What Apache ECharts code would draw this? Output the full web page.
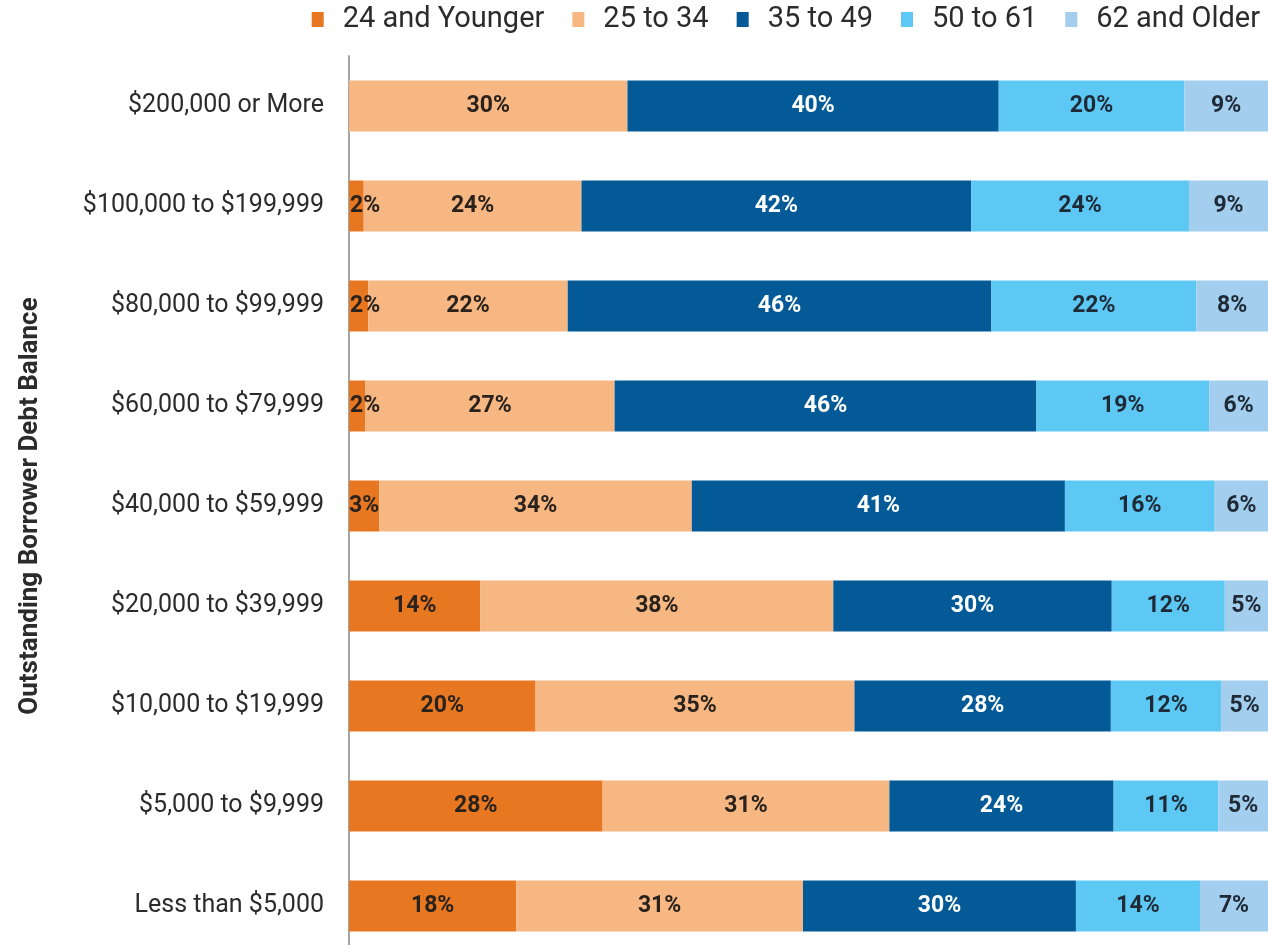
<!DOCTYPE html>
<html>
<head>
<meta charset="utf-8">
<script src="https://cdn.jsdelivr.net/npm/echarts@6/dist/echarts.min.js"></script>
<style>
  html, body { margin: 0; padding: 0; background: #fff; }
  #chart { width: 1268px; height: 945px; }
</style>
</head>
<body>
<div id="chart"></div>
<script>
// categories, top to bottom
var categories = [
    '$200,000 or More',
    '$100,000 to $199,999',
    '$80,000 to $99,999',
    '$60,000 to $79,999',
    '$40,000 to $59,999',
    '$20,000 to $39,999',
    '$10,000 to $19,999',
    '$5,000 to $9,999',
    'Less than $5,000'
];
var seriesNames = ['24 and Younger', '25 to 34', '35 to 49', '50 to 61', '62 and Older'];

// share of borrowers (%) per age group
var age24 = [0, 1.6, 2.1, 1.8, 3.3, 14.3, 20.3, 27.6, 18.2];
var age25 = [30.3, 23.7, 21.7, 27.1, 34.0, 38.4, 34.7, 31.2, 31.2];
var age35 = [40.4, 42.4, 46.1, 45.9, 40.6, 30.3, 27.9, 24.4, 29.7];
var age50 = [20.2, 23.7, 22.3, 18.8, 16.3, 12.3, 12.0, 11.4, 13.5];
var age62 = [9.1, 8.6, 7.8, 6.4, 5.8, 4.7, 5.1, 5.4, 7.4];

var colors = ['#E87722', '#F6B783', '#035A96', '#5CC8F3', '#A3CEEE'];
var labelColors = ['#2a221c', '#2a221c', '#ffffff', '#1f2a36', '#1f2a36'];

function makeSeries(idx, values) {
    return {
        name: seriesNames[idx],
        type: 'bar',
        stack: 'total',
        barWidth: 51,
        itemStyle: { color: colors[idx] },
        label: {
            show: true,
            position: 'inside',
            color: labelColors[idx],
            fontFamily: 'Roboto',
            fontWeight: 'bold',
            fontSize: 23,
            formatter: function (p) {
                return p.value > 0 ? Math.round(p.value) + '%' : '';
            }
        },
        data: values.map(function (v) {
            if (v > 0 && v < 2.5) {
                return { value: v, label: { position: 'insideLeft', distance: 1 } };
            }
            return v;
        })
    };
}

var myChart = echarts.init(document.getElementById('chart'));
var option = {
    animation: false,
    textStyle: { fontFamily: 'Roboto' },
    legend: {
        top: 0,
        right: 3,
        itemWidth: 12,
        itemHeight: 15,
        itemGap: 28,
        icon: 'rect',
        textStyle: { fontSize: 29, color: '#2b2b2b', padding: [0, 0, 0, 14] },
        data: seriesNames
    },
    grid: { left: 349, right: 0, top: 56, height: 900, outerBoundsMode: 'none' },
    xAxis: {
        type: 'value',
        min: 0,
        max: 100,
        show: false
    },
    yAxis: {
        type: 'category',
        inverse: true,
        data: categories,
        axisLine: { show: true, lineStyle: { color: '#a6a6a6', width: 2 } },
        axisTick: { show: false },
        axisLabel: { margin: 25, fontSize: 25, color: '#2b2b2b' },
        name: 'Outstanding Borrower Debt Balance',
        nameLocation: 'middle',
        nameGap: 306,
        nameTextStyle: { fontSize: 26, fontWeight: 'bold', color: '#2b2b2b' }
    },
    series: [
        makeSeries(0, age24),
        makeSeries(1, age25),
        makeSeries(2, age35),
        makeSeries(3, age50),
        makeSeries(4, age62)
    ]
};
myChart.setOption(option);
window.addEventListener('resize', function () {
    myChart.resize();
});
</script>
</body>
</html>
